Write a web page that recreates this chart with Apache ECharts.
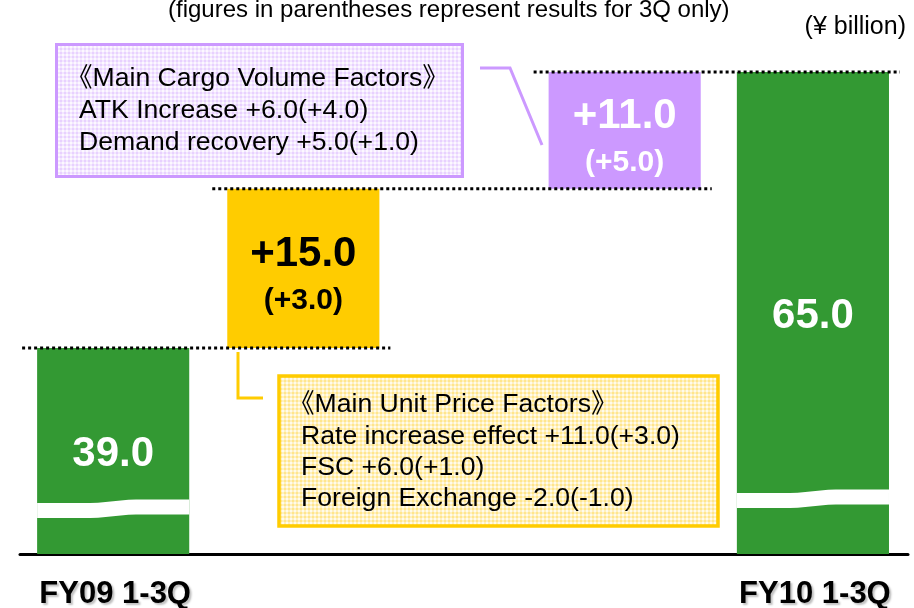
<!DOCTYPE html>
<html>
<head>
<meta charset="utf-8">
<script src="https://cdn.jsdelivr.net/npm/echarts@6/dist/echarts.min.js"></script>
<style>
  html, body { margin: 0; padding: 0; background: #fff; }
  #chart { width: 914px; height: 608px; }
</style>
</head>
<body>
<div id="chart"></div>
<script>
// waterfall: FY09 -> unit price -> cargo volume -> FY10 (¥ billion)
const categories = ['FY09 1-3Q', 'Unit price', 'Cargo volume', 'FY10 1-3Q'];
const isTotal = [true, false, false, true];
const amounts = [39.0, 15.0, 11.0, 65.0];
const quarterOnly = [null, 3.0, 5.0, null];

const volumeFactors = ['《Main Cargo Volume Factors》', 'ATK Increase +6.0(+4.0)', 'Demand recovery +5.0(+1.0)'];
const priceFactors = ['《Main Unit Price Factors》', 'Rate increase effect +11.0(+3.0)', 'FSC +6.0(+1.0)', 'Foreign Exchange -2.0(-1.0)'];
const noteText = '(figures in parentheses represent results for 3Q only)';
const unitText = '(¥ billion)';

// layout / style
const slots = [0, 1, 2.69, 3.68];
const barColors = ['#339933', '#FFCC00', '#CC99FF', '#339933'];
const labelColors = ['#ffffff', '#000000', '#ffffff', '#ffffff'];
const breakLift = [51, 0, 0, 61];
const Y_MIN = 19.6, Y_MAX = 70;
const FONT = '"Liberation Sans", Arial, "Noto Sans CJK JP", sans-serif';

function gingham(a, b, c) {
  const cv = document.createElement('canvas');
  cv.width = 4; cv.height = 4;
  const ctx = cv.getContext('2d');
  for (let i = 0; i < 4; i++) {
    for (let j = 0; j < 4; j++) {
      const n = (i < 2 ? 1 : 0) + (j < 2 ? 1 : 0);
      ctx.fillStyle = n === 2 ? a : n === 1 ? b : c;
      ctx.fillRect(i, j, 1, 1);
    }
  }
  return { image: cv, repeat: 'repeat' };
}

let run = 0;
const rows = amounts.map((v, i) => {
  let lo, hi;
  if (isTotal[i]) { lo = 0; hi = v; }
  else { lo = run; hi = run + v; }
  run = hi;
  return [slots[i], lo, hi, i];
});

function txt(text, x, y, size, color, weight, align) {
  return {
    type: 'text', z2: 20,
    style: {
      text, x, y, fill: color, fontSize: size, fontFamily: FONT,
      fontWeight: weight || 'normal', align: align || 'center', verticalAlign: 'middle'
    }
  };
}

function renderItem(params, api) {
  const i = api.value(3);
  const x = api.value(0);
  const base = api.coord([x, Math.max(api.value(1), Y_MIN)]);
  const top = api.coord([x, api.value(2)]);
  const w = api.size([1, 0])[0] * 0.8;
  const left = base[0] - w / 2;
  const kids = [{
    type: 'rect',
    shape: { x: left, y: top[1], width: w, height: base[1] - top[1] },
    style: { fill: barColors[i] }
  }];
  const yc = (base[1] + top[1]) / 2;

  if (isTotal[i]) {
    // white wavy break band
    const y0 = base[1] - breakLift[i];
    const pts = [];
    const wave = t => {
      const s = Math.min(1, Math.max(0, (t - 0.35) / 0.3));
      return -3.5 * (s * s * (3 - 2 * s));
    };
    for (let k = 0; k <= 20; k++) {
      const t = k / 20;
      pts.push([left + t * w, y0 + wave(t)]);
    }
    for (let k = 20; k >= 0; k--) {
      const t = k / 20;
      pts.push([left + t * w, y0 + 15 + wave(t)]);
    }
    kids.push({ type: 'polygon', shape: { points: pts }, style: { fill: '#ffffff' } });
    kids.push(txt(amounts[i].toFixed(1), base[0], yc + 3, 42, labelColors[i], 'bold'));
    kids.push({
      type: 'text', z2: 20,
      style: {
        text: categories[i], x: base[0] + 2, y: base[1] + 40, fill: '#000',
        fontSize: 31, fontFamily: FONT, fontWeight: 'bold', align: 'center', verticalAlign: 'middle',
        textShadowColor: 'rgba(0,0,0,0.25)', textShadowOffsetX: 2, textShadowOffsetY: 2, textShadowBlur: 2
      }
    });
  } else {
    kids.push(txt('+' + amounts[i].toFixed(1), base[0], yc - 14, 42, labelColors[i], 'bold'));
    kids.push(txt('(+' + quarterOnly[i].toFixed(1) + ')', base[0], yc + 32, 30, labelColors[i], 'bold'));
  }

  // dotted connector to the next bar
  if (i < slots.length - 1) {
    const next = api.coord([slots[i + 1], api.value(2)]);
    kids.push({
      type: 'line', z2: 30,
      shape: { x1: left - 15, y1: top[1], x2: next[0] + w / 2 + 11, y2: top[1] },
      style: { stroke: '#000', lineWidth: 3, lineDash: [3, 3] }
    });
  }
  return { type: 'group', children: kids };
}

function factorTexts(lines, x, y0, step) {
  return lines.map((s, k) => ({
    type: 'text', z: 10,
    style: {
      text: s, x: k === 0 ? x - 13 : x, y: y0 + k * step, fill: '#000',
      fontSize: 26.6, fontFamily: FONT, align: 'left', verticalAlign: 'middle'
    }
  }));
}

const chart = echarts.init(document.getElementById('chart'), null, { renderer: 'canvas' });
chart.setOption({
  animation: false,
  textStyle: { fontFamily: FONT },
  grid: { left: 20, right: 6, top: 19, bottom: 54, containLabel: false, outerBoundsMode: 'none' },
  xAxis: {
    type: 'value', min: -0.49, max: 4.18,
    axisLine: { show: true, onZero: false, lineStyle: { color: '#000', width: 3 } },
    axisTick: { show: false }, axisLabel: { show: false }, splitLine: { show: false }
  },
  yAxis: {
    type: 'value', min: Y_MIN, max: Y_MAX, show: false, splitLine: { show: false }
  },
  series: [{
    type: 'custom', data: rows, renderItem, clip: false,
    encode: { x: 0, y: [1, 2] }
  }],
  graphic: [
    { type: 'text', style: { text: noteText, x: 168, y: 10, fill: '#000', fontSize: 24, fontFamily: FONT, align: 'left', verticalAlign: 'middle' } },
    { type: 'text', style: { text: unitText, x: 906, y: 27, fill: '#000', fontSize: 25, fontFamily: FONT, align: 'right', verticalAlign: 'middle' } },
    // cargo volume box + leader
    {
      type: 'rect', z: 5, shape: { x: 56.5, y: 44.5, width: 406, height: 132 },
      style: { fill: gingham('#E8D1FF', '#F3E7FF', '#FCF8FF'), stroke: '#CC99FF', lineWidth: 3 }
    },
    ...factorTexts(volumeFactors, 79, 79, 32),
    {
      type: 'polyline', z: 5, shape: { points: [[480, 68], [510, 68], [542, 145]] },
      style: { stroke: '#CC99FF', lineWidth: 3, fill: null }
    },
    // unit price box + leader
    {
      type: 'rect', z: 5, shape: { x: 279, y: 376, width: 439, height: 150 },
      style: { fill: gingham('#FFE68C', '#FFF0BF', '#FFFBEB'), stroke: '#FFCC00', lineWidth: 3.5 }
    },
    ...factorTexts(priceFactors, 301, 405, 31.3),
    {
      type: 'polyline', z: 5, shape: { points: [[238, 352], [238, 398], [263, 398]] },
      style: { stroke: '#FFCC00', lineWidth: 3, fill: null }
    }
  ]
});
</script>
</body>
</html>
